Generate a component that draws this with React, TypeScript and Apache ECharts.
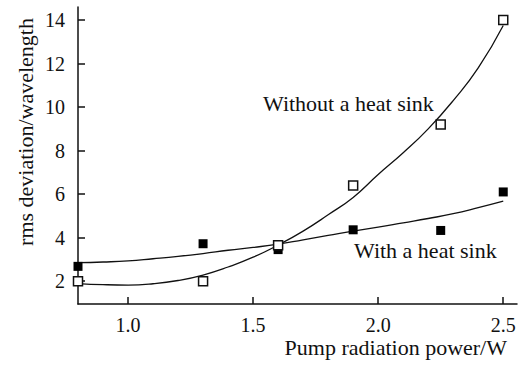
import React, { useEffect, useRef } from "react";
import * as echarts from "echarts";

const withoutX = [0.8, 1.3, 1.6, 1.9, 2.25, 2.5];
const withoutY = [2.0, 2.0, 3.65, 6.4, 9.2, 14.0];
const withX = [0.8, 1.3, 1.6, 1.9, 2.25, 2.5];
const withY = [2.68, 3.72, 3.45, 4.36, 4.33, 6.1];

const fitX = [0.8, 0.9, 1.0, 1.1, 1.2, 1.3, 1.4, 1.5, 1.6, 1.7, 1.8, 1.9, 2.0, 2.1, 2.2, 2.3, 2.4, 2.5];
const withoutFit = [1.89, 1.84, 1.82, 1.88, 2.03, 2.28, 2.65, 3.1, 3.66, 4.3, 5.05, 5.85, 6.9, 7.9, 9.0, 10.3, 11.8, 13.75];
const withFit = [2.85, 2.88, 2.93, 3.03, 3.14, 3.27, 3.42, 3.55, 3.7, 3.9, 4.1, 4.3, 4.48, 4.68, 4.88, 5.1, 5.38, 5.68];

const xTicks = [1.0, 1.5, 2.0, 2.5];
const yTicks = [2, 4, 6, 8, 10, 12, 14];

export default function App() {
  const ref = useRef<HTMLDivElement>(null);
  useEffect(() => {
    document.body.style.margin = "0";
    const chart = echarts.init(ref.current!, null, { renderer: "svg" });
    const zip = (xs: number[], ys: number[]) => xs.map((x, i) => [x, ys[i]]);
    chart.setOption({
      animation: false,
      backgroundColor: "#fff",
      textStyle: { fontFamily: "Liberation Serif" },
      grid: { left: 78, right: 3, top: 7, bottom: 67 },
      xAxis: {
        type: "value",
        min: 0.8,
        max: 2.555,
        splitLine: { show: false },
        axisLine: { lineStyle: { color: "#111", width: 1.5 } },
        axisTick: { inside: true, length: 7, customValues: xTicks, lineStyle: { color: "#111", width: 1.5 } },
        axisLabel: {
          customValues: xTicks,
          formatter: (v: number) => v.toFixed(1),
          color: "#111",
          fontFamily: "Liberation Serif",
          fontSize: 20,
          margin: 11,
        },
      },
      yAxis: {
        type: "value",
        min: 0.95,
        max: 14.6,
        splitLine: { show: false },
        axisLine: { show: true, lineStyle: { color: "#111", width: 1.5 } },
        axisTick: { show: true, inside: true, length: 7, customValues: yTicks, lineStyle: { color: "#111", width: 1.5 } },
        axisLabel: {
          customValues: yTicks,
          color: "#111",
          fontFamily: "Liberation Serif",
          fontSize: 20,
          margin: 13,
        },
      },
      series: [
        {
          type: "line",
          name: "Without fit",
          data: zip(fitX, withoutFit),
          smooth: true,
          showSymbol: false,
          lineStyle: { color: "#111", width: 1.3 },
          z: 2,
        },
        {
          type: "line",
          name: "With fit",
          data: zip(fitX, withFit),
          smooth: true,
          showSymbol: false,
          lineStyle: { color: "#111", width: 1.3 },
          z: 2,
        },
        {
          type: "scatter",
          name: "With a heat sink",
          data: zip(withX, withY),
          symbol: "rect",
          symbolSize: 9,
          itemStyle: { color: "#000", opacity: 1 },
          z: 3,
        },
        {
          type: "scatter",
          name: "Without a heat sink",
          data: zip(withoutX, withoutY),
          symbol: "rect",
          symbolSize: 9,
          itemStyle: { color: "#fff", borderColor: "#111", borderWidth: 1.5, opacity: 1 },
          z: 4,
        },
      ],
      graphic: [
        { type: "text", x: 25, y: 132, rotation: Math.PI / 2, style: { text: "rms deviation/wavelength", fill: "#111", fontFamily: "Liberation Serif", fontSize: 22, align: "center", verticalAlign: "middle" } },
        { type: "text", x: 507, y: 347, style: { text: "Pump radiation power/W", fill: "#111", fontFamily: "Liberation Serif", fontSize: 22, align: "right", verticalAlign: "middle" } },
        { type: "text", x: 263, y: 103, style: { text: "Without a heat sink", fill: "#111", fontFamily: "Liberation Serif", fontSize: 22, align: "left", verticalAlign: "middle" } },
        { type: "text", x: 354, y: 250, style: { text: "With a heat sink", fill: "#111", fontFamily: "Liberation Serif", fontSize: 22, align: "left", verticalAlign: "middle" } },
      ],
    });
    return () => chart.dispose();
  }, []);
  return <div ref={ref} style={{ width: 520, height: 371 }} />;
}
